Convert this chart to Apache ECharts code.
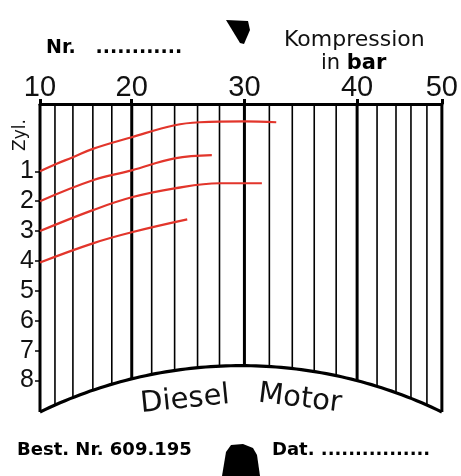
<!DOCTYPE html>
<html><head><meta charset="utf-8">
<script src="https://cdn.jsdelivr.net/npm/echarts@6/dist/echarts.min.js"></script>
<style>html,body{margin:0;padding:0;background:#fff;}#c{width:461px;height:476px;}</style>
</head><body><div id="c"></div>
<script>
// Printed (non-linear) bar scale of the card: bar value -> position along card (scale units)
const scaleBar = [10,12,14,16,18,20,22,24,26,28,30,32,34,36,38,40,42,44,46,48,50];
const scalePos = [0,15,33,53,72,92,112,135,158,180,205,230,253,275,297,318,338,357,372,388,403];
const majorBars = [10,20,30,40,50];
const cylinders = [1,2,3,4,5,6,7,8];

// Red stylus traces: pressure (bar) and vertical position (cylinder units)
const trace1Bar = [10, 12, 14, 16, 20, 24, 26.2, 30, 32.6];
const trace1Cyl = [1.0, 0.77, 0.53, 0.25, -0.14, -0.54, -0.64, -0.67, -0.64];
const trace2Bar = [10, 16, 20, 24, 27.3];
const trace2Cyl = [2.0, 1.30, 0.97, 0.57, 0.46];
const trace3Bar = [10, 16, 20, 24, 28, 31.4];
const trace3Cyl = [3.0, 2.30, 1.87, 1.57, 1.40, 1.40];
const trace4Bar = [10, 16, 20, 25.1];
const trace4Cyl = [4.05, 3.41, 3.04, 2.61];

const yMin = -1.25, yMax = 9.05;
const arcApexCyl = 7.5;

function barToPos(b) {
  for (let i = 0; i < scaleBar.length - 1; i++) {
    if (b <= scaleBar[i + 1]) {
      const t = (b - scaleBar[i]) / (scaleBar[i + 1] - scaleBar[i]);
      return scalePos[i] + t * (scalePos[i + 1] - scalePos[i]);
    }
  }
  return scalePos[scalePos.length - 1];
}
function posToBar(p) {
  for (let i = 0; i < scalePos.length; i++) if (Math.abs(scalePos[i] - p) < 0.01) return scaleBar[i];
  return '';
}
const posMax = scalePos[scalePos.length - 1];

function arcCircle(api) {
  const p0 = api.coord([0, yMax]);
  const p1 = api.coord([posMax, yMax]);
  const ap = api.coord([posMax / 2, arcApexCyl]);
  const half = (p1[0] - p0[0]) / 2;
  const s = p0[1] - ap[1];
  const r = (half * half + s * s) / (2 * s);
  return { cx: ap[0], cy: ap[1] + r, r: r };
}
function arcY(c, x) {
  const dx = x - c.cx;
  return c.cy - Math.sqrt(Math.max(0, c.r * c.r - dx * dx));
}

function traceData(bars, cyl) { return bars.map((b, i) => [barToPos(b), cyl[i]]); }

const chart = echarts.init(document.getElementById('c'), null, { renderer: 'canvas' });
const red = '#e2352b';
const traceSeries = [[trace1Bar, trace1Cyl], [trace2Bar, trace2Cyl], [trace3Bar, trace3Cyl], [trace4Bar, trace4Cyl]].map((t, i) => ({
  name: 'Zyl. ' + (i + 1), type: 'line', data: traceData(t[0], t[1]), smooth: 0.4, symbol: 'none',
  lineStyle: { color: red, width: 2.2 }, z: 5, silent: true
}));

chart.setOption({
  backgroundColor: '#fff',
  animation: false,
  grid: { left: 40, right: 18, top: 104, bottom: 64 },
  xAxis: {
    type: 'value', position: 'top', min: 0, max: posMax,
    axisLine: { show: true, onZero: false, lineStyle: { color: '#000', width: 3 } },
    axisTick: { show: true, customValues: majorBars.map(barToPos), length: 5, lineStyle: { color: '#000', width: 3 } },
    axisLabel: { customValues: majorBars.map(barToPos), formatter: v => String(posToBar(v)), margin: 2,
      fontFamily: "'Liberation Sans', sans-serif", fontSize: 29, color: '#111' },
    splitLine: { show: false }
  },
  yAxis: {
    type: 'value', inverse: true, min: yMin, max: yMax,
    axisLine: { show: false },
    axisTick: { show: true, customValues: cylinders, length: 5, lineStyle: { color: '#000', width: 1.5 } },
    axisLabel: { customValues: cylinders, margin: 6, fontFamily: "'Liberation Sans', sans-serif", fontSize: 25, color: '#111' },
    splitLine: { show: false }
  },
  series: [
    {
      type: 'custom', silent: true, z: 2,
      data: scaleBar.map(b => [barToPos(b), b]),
      renderItem: function (params, api) {
        const c = arcCircle(api);
        const top = api.coord([api.value(0), yMin]);
        const major = api.value(1) % 10 === 0;
        return { type: 'line', shape: { x1: top[0], y1: top[1], x2: top[0], y2: arcY(c, top[0]) },
          style: { stroke: '#000', lineWidth: major ? 3 : 1.6 } };
      }
    },
    {
      type: 'custom', silent: true, z: 3,
      data: [[0, yMax]],
      renderItem: function (params, api) {
        const c = arcCircle(api);
        const x0 = api.coord([0, yMax])[0], x1 = api.coord([posMax, yMax])[0];
        const pts = [];
        for (let i = 0; i <= 80; i++) { const x = x0 + (x1 - x0) * i / 80; pts.push([x, arcY(c, x)]); }
        return { type: 'polyline', shape: { points: pts }, style: { stroke: '#000', lineWidth: 3.2, fill: null } };
      }
    },
    ...traceSeries
  ],
  graphic: [
    { type: 'text', left: 46, top: 39, style: { text: 'Nr.   ............', font: "bold 19px 'DejaVu Sans', sans-serif", fill: '#000' } },
    { type: 'text', left: 284, top: 29, style: { text: 'Kompression', font: "22px 'DejaVu Sans', sans-serif", fill: '#111' } },
    { type: 'text', left: 321, top: 53, style: { rich: { r: { font: "21px 'DejaVu Sans', sans-serif", fill: '#111' }, b: { font: "bold 21px 'DejaVu Sans', sans-serif", fill: '#000' } }, text: '{r|in }{b|bar}' } },
    { type: 'text', x: 21, y: 135, rotation: Math.PI / 2, style: { text: 'Zyl.', font: "17px 'DejaVu Sans', sans-serif", fill: '#111', align: 'center', verticalAlign: 'middle' } },
    { type: 'text', x: 185, y: 400, rotation: 0.1, style: { text: 'Diesel', font: "29px 'DejaVu Sans', sans-serif", fill: '#111', align: 'center', verticalAlign: 'middle' } },
    { type: 'text', x: 300, y: 399, rotation: -0.12, style: { text: 'Motor', font: "29px 'DejaVu Sans', sans-serif", fill: '#111', align: 'center', verticalAlign: 'middle' } },
    { type: 'text', left: 17, top: 441, style: { text: 'Best. Nr. 609.195', font: "bold 18px 'DejaVu Sans', sans-serif", fill: '#000' } },
    { type: 'text', left: 272, top: 441, style: { text: 'Dat. ................', font: "bold 18px 'DejaVu Sans', sans-serif", fill: '#000' } },
    { type: 'polygon', shape: { points: [[226,20],[248,21],[250,30],[244,44],[240,43]] }, style: { fill: '#000' } },
    { type: 'polygon', shape: { points: [[222,476],[226,452],[231,445],[243,444],[253,448],[257,455],[260,476]] }, style: { fill: '#000' } }
  ]
});
</script></body></html>
